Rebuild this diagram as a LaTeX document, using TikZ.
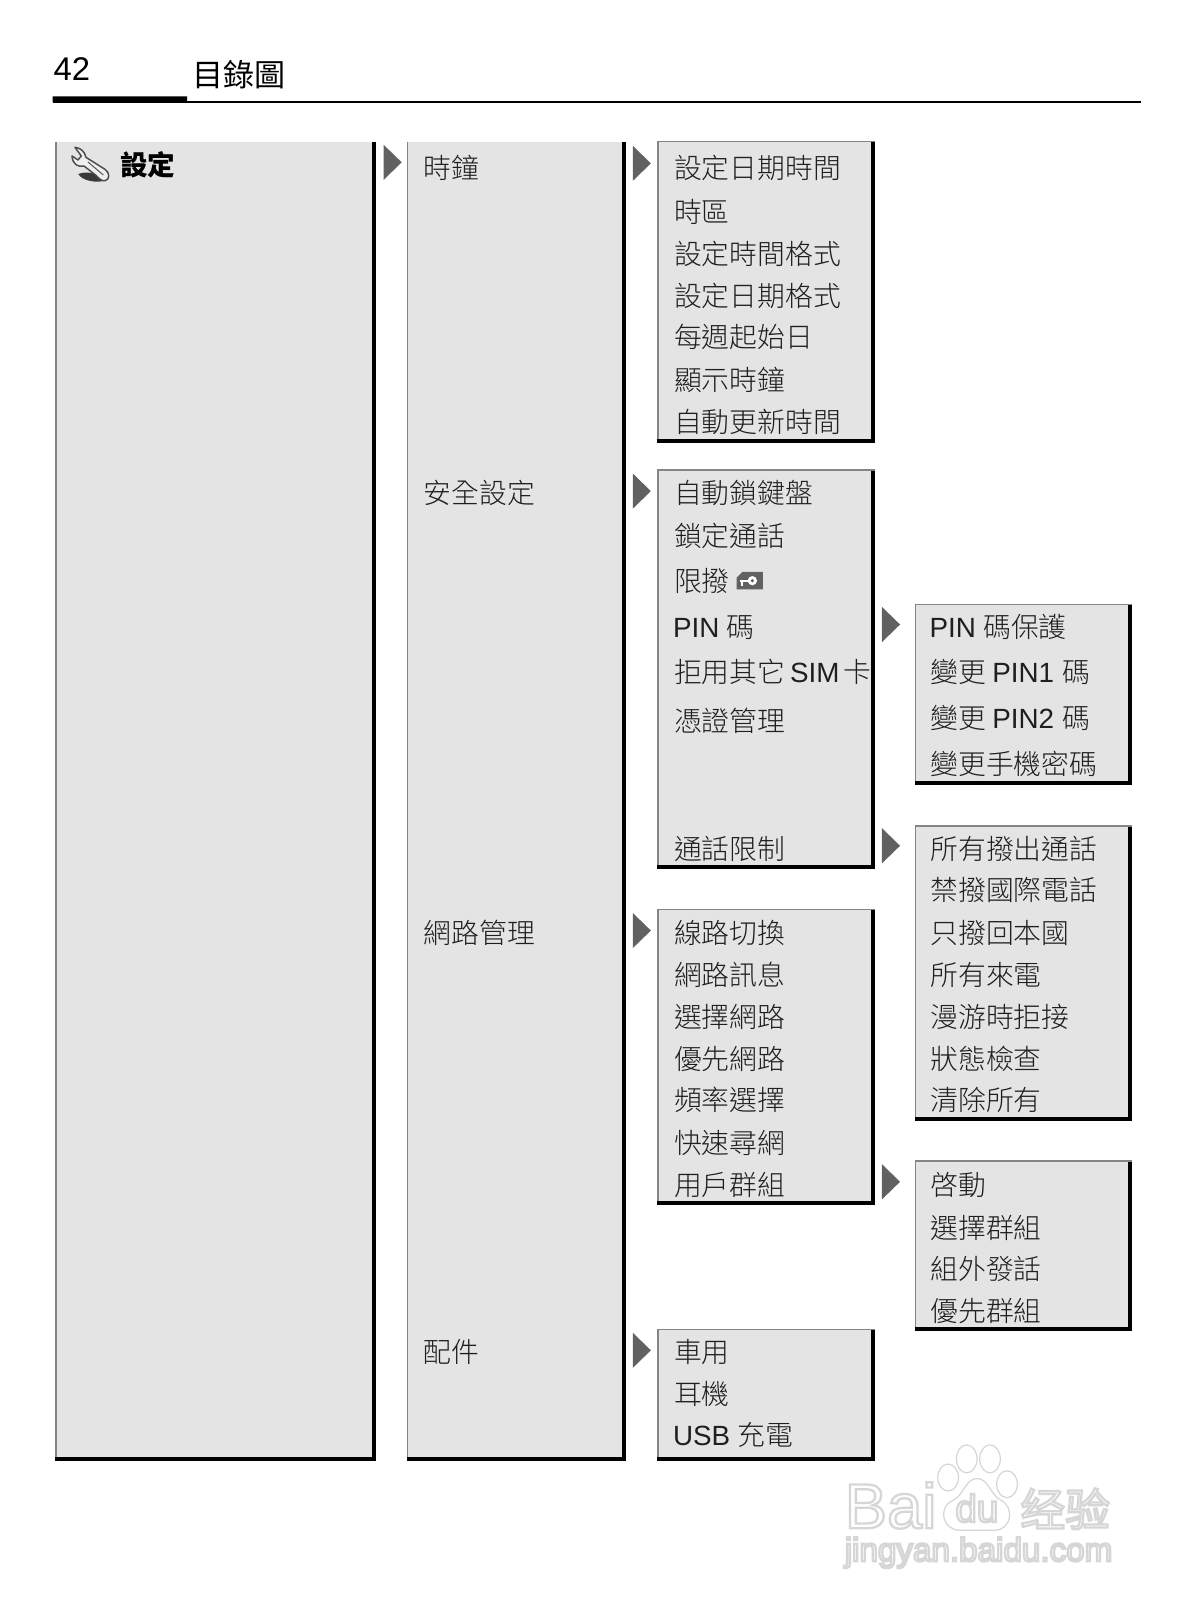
\documentclass[tikz,border=0pt]{standalone}
\usepackage{fontspec}
\setmainfont{Liberation Sans}
\newfontfamily\cjk{Noto Sans CJK TC}[UprightFont=* Light,BoldFont=* Medium]
\newfontfamily\cjkreg{Noto Sans CJK TC}
\newcommand{\lat}[1]{{\rmfamily #1}}
\definecolor{panel}{gray}{0.895}
\definecolor{edgegray}{gray}{0.52}
\definecolor{arrowgray}{gray}{0.38}
\definecolor{wmline}{gray}{0.84}
\tikzset{
  x=0.7754pt,y=-0.7754pt,
  panelbox/.style={fill=panel,draw=none,inner sep=0pt,outer sep=0pt,rectangle},
  itemtext/.style={anchor=base west,inner sep=0pt,outer sep=0pt,text=black!88,font=\fontsize{20.85pt}{24pt}\selectfont\cjk},
  marker/.style={fill=arrowgray,draw=none},
  wmtext/.style={anchor=base west,inner sep=0pt,outer sep=0pt},
}
% name, x1, y1, x2, y2
\newcommand{\menupanel}[5]{%
  \node[panelbox,minimum width={(#4-#2)*0.7754pt},minimum height={(#5-#3)*0.7754pt},anchor=north west] (#1) at (#2,#3) {};
  \draw[edgegray,line width=1.2pt] ([xshift=0.6pt]#1.north west) -- ([xshift=0.6pt]#1.south west);
  \draw[black,line width=2.9pt,line cap=butt] ([xshift=-1.45pt]#1.north east) -- ([xshift=-1.45pt,yshift=1.45pt]#1.south east) -- ([yshift=1.45pt]#1.south west);
}
\newcommand{\toprule}[1]{\draw[edgegray,line width=1.2pt] ([yshift=-0.6pt]#1.north west) -- ([yshift=-0.6pt]#1.north east);}
% name, x, y centre, text
\newcommand{\itm}[4]{\node[itemtext] (#1) at (#2,#3+10.4) {#4};}
% x, y
\newcommand{\mrk}[2]{\fill[marker] (#1,#2) -- ++(17.5,17) -- ++(-17.5,17) -- cycle;}
% name x y size text: outlined real text
\newcommand{\wm}[5]{%
  \node[wmtext,text=white,font=\fontsize{#4pt}{#4pt}\selectfont] (#1) at (#2,#3) {\special{pdf:code q 2 Tr 1.7 w 0.84 G}#5\special{pdf:code Q}};
}
\begin{document}
\begin{tikzpicture}
\useasboundingbox (0,0) rectangle (1150,1567.8);
\fill[white] (0,0) rectangle (1150,1567.8);
% header
\node[anchor=base west,inner sep=0pt,font=\fontsize{24.6pt}{28pt}\selectfont] (pagenum) at (51.5,78) {42};
\node[anchor=base west,inner sep=0pt,font=\fontsize{23.3pt}{28pt}\selectfont\cjkreg] (title) at (185.5,84) {目錄圖};
\coordinate (ruleL) at (51,98.5);
\coordinate (ruleM) at (181,98.5);
\coordinate (ruleR) at (1104,98.5);
\draw[black,line width=1.6pt] (ruleL) -- (ruleR);
\draw[black,line width=4.2pt] (ruleL)++(0,-2.6) -- ([yshift=2pt]ruleM);
% panels
\menupanel{pA}{53.5}{137}{363.5}{1413}
\menupanel{pB}{393.5}{137}{605}{1413}
\menupanel{pC1}{635.5}{136}{846}{428}\toprule{pC1}
\menupanel{pC2}{635.5}{454}{846}{840}\toprule{pC2}
\menupanel{pC3}{635.5}{879}{846}{1165}\toprule{pC3}
\menupanel{pC4}{635.5}{1285}{846}{1413}\toprule{pC4}
\menupanel{pD1}{884.5}{584}{1095}{759}\toprule{pD1}
\menupanel{pD2}{884.5}{798}{1095}{1084}\toprule{pD2}
\menupanel{pD3}{884.5}{1122}{1095}{1287}\toprule{pD3}
% markers
\mrk{371}{140}\mrk{612}{141}\mrk{612}{458}\mrk{612}{883}\mrk{612}{1289}
\mrk{853}{587}\mrk{853}{801}\mrk{853}{1126}
% wrench icon
\begin{scope}[shift={(58,135.4)},scale=0.3224]
\fill[gray!45!black] (55,102) .. controls (80,92) and (120,100) .. (132,122) .. controls (110,130) and (65,122) .. (55,102) -- cycle;
\draw[gray!60!black,fill=panel!60!white,line width=1.1pt,line join=round] (45,22) .. controls (62,24) and (74,34) .. (78,52) -- (135,88) .. controls (150,98) and (150,118) .. (136,122) .. controls (125,124) and (118,116) .. (108,106) -- (72,78) .. controls (55,82) and (38,74) .. (36,48) -- (54,60) -- (64,48) -- cycle;
\draw[gray!70!black,line width=0.8pt] (84,66) -- (130,105);
\end{scope}
\node[anchor=base west,inner sep=0pt,font=\fontsize{20.7pt}{24pt}\selectfont\cjkreg\bfseries] (head) at (116,169.5) {設定};
% column B
\itm{b1}{410}{162}{時鐘}
\itm{b2}{410}{477}{安全設定}
\itm{b3}{410}{902}{網路管理}
\itm{b4}{410}{1307}{配件}
% C1
\itm{c11}{652}{162}{設定日期時間}
\itm{c12}{652}{205}{時區}
\itm{c13}{652}{245}{設定時間格式}
\itm{c14}{652}{286}{設定日期格式}
\itm{c15}{652}{326}{每週起始日}
\itm{c16}{652}{367}{顯示時鐘}
\itm{c17}{652}{408}{自動更新時間}
% C2
\itm{c21}{652}{477}{自動鎖鍵盤}
\itm{c22}{652}{518}{鎖定通話}
\itm{c23}{652}{562}{限撥}
\itm{c24}{651}{606}{\lat{PIN}\hspace{1pt} 碼}
\itm{c25}{652}{650}{拒用其它\hspace{-1pt} \lat{SIM}\hspace{-1.6pt} 卡}
\itm{c26}{652}{697}{憑證管理}
\itm{c27}{652}{821}{通話限制}
% key icon
\begin{scope}[shift={(707.5,549)},scale=0.28]
\fill[arrowgray] (18,75) -- (18,35) -- (38,15) -- (108,15) -- (108,75) -- cycle;
\draw[white,line width=1.5pt] (28,46) -- (62,46);
\draw[white,line width=1.5pt] (36,46) -- (36,62);
\fill[white] (72,45) circle (16);
\fill[arrowgray] (72,45) circle (6);
\end{scope}
% C3
\itm{c31}{652}{902}{線路切換}
\itm{c32}{652}{943}{網路訊息}
\itm{c33}{652}{983}{選擇網路}
\itm{c34}{652}{1024}{優先網路}
\itm{c35}{652}{1064}{頻率選擇}
\itm{c36}{652}{1105}{快速尋網}
\itm{c37}{652}{1146}{用戶群組}
% C4
\itm{c41}{652}{1307}{車用}
\itm{c42}{652}{1348}{耳機}
\itm{c43}{651}{1388}{\lat{USB}\hspace{1pt} 充電}
% D1
\itm{d11}{899}{606}{\lat{PIN}\hspace{1pt} 碼保護}
\itm{d12}{900}{650}{變更 \lat{PIN1}\hspace{2pt} 碼}
\itm{d13}{900}{694}{變更 \lat{PIN2}\hspace{2pt} 碼}
\itm{d14}{900}{739}{變更手機密碼}
% D2
\itm{d21}{900}{821}{所有撥出通話}
\itm{d22}{900}{861}{禁撥國際電話}
\itm{d23}{900}{902}{只撥回本國}
\itm{d24}{900}{943}{所有來電}
\itm{d25}{900}{983}{漫游時拒接}
\itm{d26}{900}{1024}{狀態檢查}
\itm{d27}{900}{1064}{清除所有}
% D3
\itm{d31}{900}{1146}{啓動}
\itm{d32}{900}{1187}{選擇群組}
\itm{d33}{900}{1227}{組外發話}
\itm{d34}{900}{1268}{優先群組}
% watermark
\begin{scope}[draw=wmline,fill=white,line width=0.9pt]
\filldraw (935,1411) ellipse (10 and 13.5);
\filldraw (957.5,1411) ellipse (10 and 13.5);
\filldraw (917,1429) ellipse (10 and 13);
\filldraw (974,1435.5) ellipse (10 and 13);
\filldraw (928,1480) .. controls (912,1480) and (906,1458) .. (922,1451) .. controls (932,1446) and (934,1430) .. (945,1430) .. controls (956,1430) and (958,1446) .. (968,1451) .. controls (982,1458) and (978,1480) .. (962,1480) -- cycle;
\end{scope}
\wm{wmBai}{817}{1478}{47.6}{Bai}
\wm{wmdu}{924}{1472}{29}{du}
\wm{wmjy}{987}{1476}{33.5}{\cjkreg 经验}
\wm{wmurl}{817}{1510}{24.9}{jingyan.baidu.com}
\end{tikzpicture}
\end{document}
